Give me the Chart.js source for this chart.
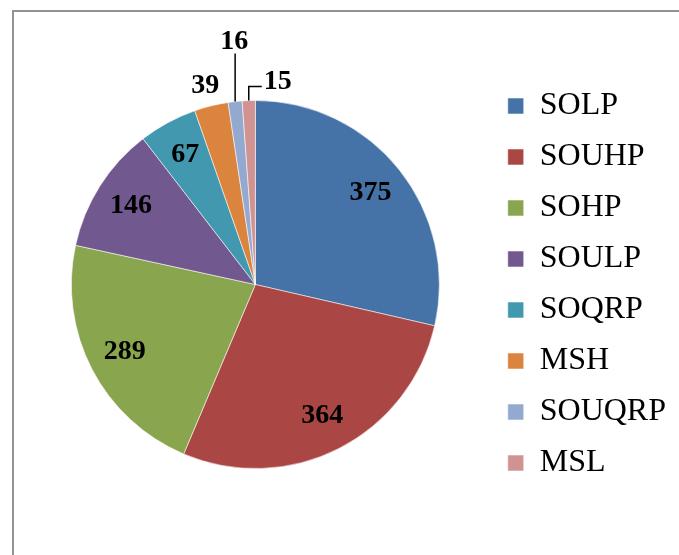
<!DOCTYPE html>
<html>
<head>
<meta charset="utf-8">
<script src="https://cdn.jsdelivr.net/npm/chart.js@4.4.1/dist/chart.umd.min.js"></script>
<style>
  html, body { margin: 0; padding: 0; background: #fff; }
  #wrap { position: relative; width: 679px; height: 555px; overflow: hidden; }
  #frame { position: absolute; left: 12px; top: 10px; right: -5px; bottom: -5px;
           border-top: 2px solid #939393; border-left: 2px solid #939393; pointer-events: none; }
</style>
</head>
<body>
<div id="wrap">
  <canvas id="pieChart" width="679" height="555"></canvas>
  <div id="frame"></div>
</div>
<script>
// categories and values
const categories = ['SOLP', 'SOUHP', 'SOHP', 'SOULP', 'SOQRP', 'MSH', 'SOUQRP', 'MSL'];
const counts = [375, 364, 289, 146, 67, 39, 16, 15];
const sliceColors = ['#4572A7', '#AA4643', '#89A54E', '#71588F', '#4198AF', '#DB843D', '#93A9CF', '#D19392'];

// value labels: big slices inside, small ones outside (Excel style)
const sliceLabels = {
  id: 'sliceLabels',
  afterDatasetsDraw(chart) {
    const ctx = chart.ctx;
    const meta = chart.getDatasetMeta(0);
    const vals = chart.data.datasets[0].data;
    let smallCount = 0;
    ctx.save();
    ctx.font = 'bold 28px "Liberation Serif", "Times New Roman", serif';
    ctx.fillStyle = '#000';
    ctx.strokeStyle = '#000';
    ctx.lineWidth = 1.5;
    meta.data.forEach((arc, i) => {
      const p = arc.getProps(['x', 'y', 'startAngle', 'endAngle', 'outerRadius'], true);
      const mid = (p.startAngle + p.endAngle) / 2;
      const cos = Math.cos(mid), sin = Math.sin(mid);
      const text = String(vals[i]);
      if (vals[i] >= 50) {
        const r = p.outerRadius * 0.8;
        ctx.textAlign = 'center';
        ctx.textBaseline = 'middle';
        ctx.fillText(text, p.x + cos * r, p.y + sin * r);
        return;
      }
      const rx = p.x + cos * p.outerRadius;
      const ry = p.y + sin * p.outerRadius;
      ctx.textBaseline = 'alphabetic';
      if (smallCount === 0) {
        // just outside the rim, no leader
        ctx.textAlign = 'right';
        ctx.fillText(text, rx + 8, ry - 13);
      } else if (i < vals.length - 1) {
        // straight leader going up
        ctx.beginPath();
        ctx.moveTo(rx, ry);
        ctx.lineTo(rx, ry - 48);
        ctx.stroke();
        ctx.textAlign = 'center';
        ctx.fillText(text, rx - 1, ry - 53);
      } else {
        // bent leader going up then right
        ctx.beginPath();
        ctx.moveTo(rx, ry);
        ctx.lineTo(rx, ry - 14);
        ctx.lineTo(rx + 13, ry - 14);
        ctx.stroke();
        ctx.textAlign = 'left';
        ctx.fillText(text, rx + 15, ry - 12);
      }
      smallCount++;
    });
    ctx.restore();
  }
};

const pieChartData = {
  labels: categories,
  datasets: [{
    data: counts,
    backgroundColor: sliceColors,
    borderColor: 'rgba(255,255,255,0.55)',
    borderWidth: 1,
    radius: 184
  }]
};

new Chart(document.getElementById('pieChart'), {
  type: 'pie',
  data: pieChartData,
  options: {
    responsive: false,
    animation: false,
    devicePixelRatio: 1,
    layout: { padding: { left: 22, right: 3, top: 14, bottom: 0 } },
    plugins: {
      tooltip: { enabled: false },
      legend: {
        position: 'right',
        labels: {
          boxWidth: 16,
          boxHeight: 16,
          padding: 19,
          color: '#000',
          font: { family: '"Liberation Serif", "Times New Roman", serif', size: 32 }
        }
      }
    }
  },
  plugins: [sliceLabels]
});
</script>
</body>
</html>
